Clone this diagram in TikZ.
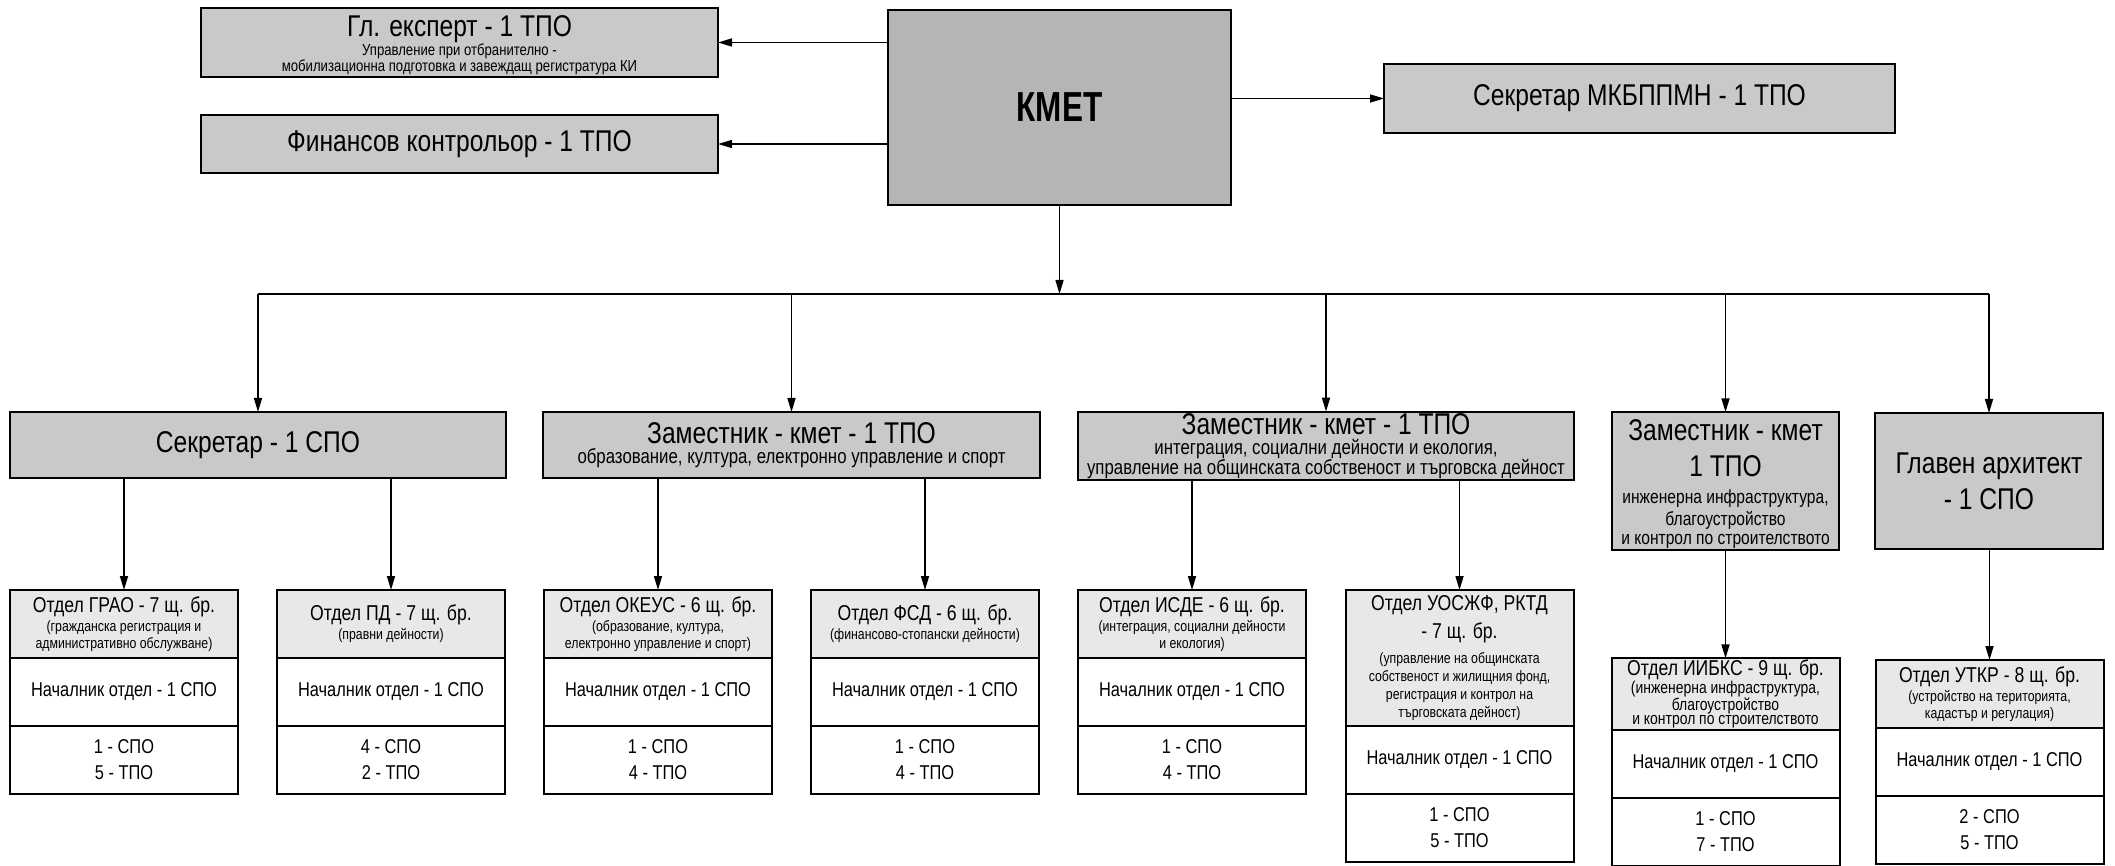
\documentclass[tikz,border=0pt]{standalone}
\usepackage{fontspec}
\setmainfont[FakeStretch=0.82]{Liberation Sans}
\newfontfamily\kmetfont[FakeStretch=0.75]{Liberation Sans}
\usetikzlibrary{arrows.meta,positioning}

\definecolor{boxgray}{HTML}{C9C9C9}
\definecolor{kmetgray}{HTML}{B5B5B5}
\definecolor{headgray}{HTML}{E8E8E8}

\lineskiplimit=-100pt % lines in the boxes sit very close
\newcommand\np{\par}% ends the text of a box with its own line spacing
\newcommand\fT{\fontsize{30}{36}\selectfont}% titles
\newcommand\fS{\fontsize{20.5}{17}\selectfont}% lines under the titles
\newcommand\fZ{\fontsize{19}{15.5}\selectfont}
\newcommand\fY{\fontsize{16}{12.5}\selectfont}% top left box
\newcommand\fH{\fontsize{21.5}{24}\selectfont}% department titles
\newcommand\fD{\fontsize{20}{24}\selectfont}% department cells
\newcommand\fX{\fontsize{15}{17}\selectfont}% department subtitles
\newcommand\fI{\fontsize{17}{14}\selectfont}

\begin{document}
\begin{tikzpicture}[x=1pt, y=-1pt,
node distance=0pt,
   box/.style = {rectangle, draw, line width=2pt, fill=boxgray,
                 inner sep=1.5pt, outer sep=0pt, align=flush center, font=\fT},
  head/.style = {box, fill=headgray, text width=225pt, font=\fH},% top part of a department
  cell/.style = {head, fill=white, minimum height=68pt, font=\fD},
   arr/.style = {line width=1.6pt, -{Triangle[length=14pt,width=8pt]}},
  link/.style = {line width=1.6pt},
                    ]
\useasboundingbox (0,0) rectangle (2115,866);
% mayor and the posts beside him
\node[box, fill=kmetgray, text width=340pt, minimum height=195pt,
      font=\kmetfont\bfseries\fontsize{42}{42}\selectfont] (kmet) at (1059.5,107.5) {КМЕТ};
\node[box, text width=514pt, minimum height=69pt] (glexp) at (459.5,42.5)
     {\rule{0pt}{26pt}Гл. експерт - 1 ТПО\\\fY Управление при отбранително -\\мобилизационна подготовка и завеждащ регистратура КИ\np};
\node[box, text width=514pt, minimum height=58pt] (fin) at (459.5,144) {Финансов контрольор - 1 ТПО};
\node[box, text width=508pt, minimum height=69pt] (secm) at (1639.5,98.5) {Секретар МКБППМН - 1 ТПО};
\draw[arr] (kmet.west |- glexp.east) -- (glexp.east);
\draw[arr] (kmet.west |- fin.east) -- (fin.east);
\draw[arr] (kmet.east |- secm.west) -- (secm.west);
% second level
\node[box, text width=493pt, minimum height=66pt] (sec) at (258,445) {Секретар - 1 СПО};
\node[box, text width=494pt, minimum height=66pt] (zam1) at (791.5,445)
     {Заместник - кмет - 1 ТПО\\[3pt]\fS образование, култура, електронно управление и спорт\np};
\node[box, text width=493pt, minimum height=66pt] (zam2) at (1326,446)
     {Заместник - кмет - 1 ТПО\\[3pt]\fS интеграция, социални дейности и екология,\\управление на общинската собственост и търговска дейност\np};
\node[box, text width=224pt, minimum height=136pt] (zam3) at (1725.5,481)
     {\rule{0pt}{27pt}Заместник - кмет\\1 ТПО\\[11.5pt]\fZ инженерна инфраструктура,\\[3pt]благоустройство\\[3pt]и контрол по строителството\np};
\node[box, text width=225pt, minimum height=136pt] (arch) at (1989,481) {Главен архитект\\- 1 СПО};
\coordinate (bus) at (1059.5,294);
\draw[arr] (kmet) -- (bus);
\draw[link] (sec.north |- bus) -- (arch.north |- bus);
\foreach \b in {sec,zam1,zam2,zam3,arch}
    \draw[arr] (\b.north |- bus) -- (\b.north);
% departments
\foreach \nm/\px/\py/\hh/\hd/\nA/\nB in {
  grao/124/590/68/{Отдел ГРАО - 7 щ. бр.\\[2pt]\fX (гражданска регистрация и\\административно обслужване)}/1/5,
  pd/391/590/68/{Отдел ПД - 7 щ. бр.\\[2pt]\fX (правни дейности)}/4/2,
  okeus/658/590/68/{Отдел ОКЕУС - 6 щ. бр.\\[2pt]\fX (образование, култура,\\електронно управление и спорт)}/1/4,
  fsd/925/590/68/{Отдел ФСД - 6 щ. бр.\\[2pt]\fX (финансово-стопански дейности)}/1/4,
  isde/1192/590/68/{Отдел ИСДЕ - 6 щ. бр.\\[2pt]\fX (интеграция, социални дейности\\и екология)}/1/4,
  uoszhf/1459.5/590/136/{Отдел УОСЖФ, РКТД\\[4pt]- 7 щ. бр.\\[8pt]\fX (управление на общинската\\[1pt]собственост и жилищния фонд,\\[1pt]регистрация и контрол на\\[1pt]търговската дейност)}/1/5,
  iibks/1725.5/660/68/{Отдел ИИБКС - 9 щ. бр.\\\fI (инженерна инфраструктура,\\благоустройство\\и контрол по строителството}/1/7,
  utkr/1989.5/660/68/{Отдел УТКР - 8 щ. бр.\\[2pt]\fX (устройство на територията,\\кадастър и регулация)}/2/5}
{
  \node[head, minimum height=\hh pt] (\nm) at (\px,{\py+\hh/2}) {\hd\np};
  \node[cell, below=of \nm] (\nm-m) {Началник отдел - 1 СПО};
  \node[cell, below=of \nm-m] (\nm-b) {\nA{} - СПО\\[2pt]\nB{} - ТПО};
}
\foreach \a/\b in {sec/grao,sec/pd,zam1/okeus,zam1/fsd,zam2/isde,zam2/uoszhf,zam3/iibks,arch/utkr}
    \draw[arr] (\a.south -| \b.north) -- (\b.north);
\end{tikzpicture}
\end{document}
